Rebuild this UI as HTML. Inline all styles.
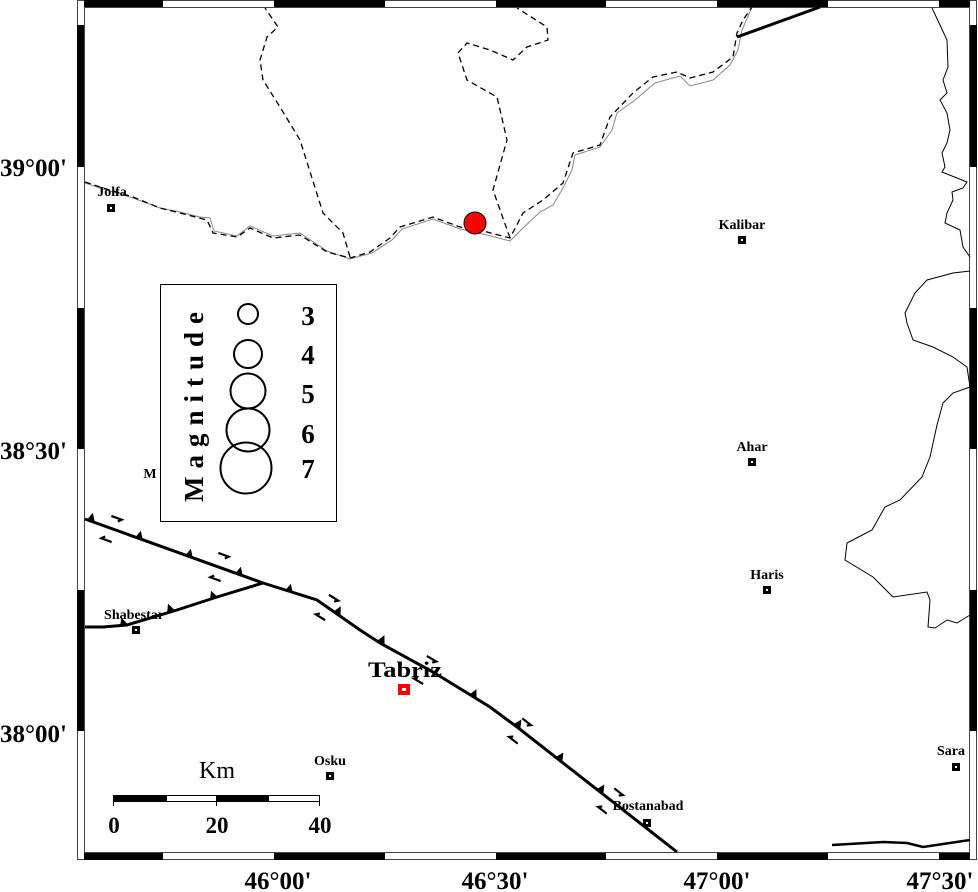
<!DOCTYPE html>
<html><head><meta charset="utf-8"><style>
html,body{margin:0;padding:0;background:#fff;}
svg{display:block;}
text{font-family:"Liberation Serif",serif;}
</style></head><body>
<svg width="978" height="892" viewBox="0 0 978 892" xmlns="http://www.w3.org/2000/svg">
<rect width="978" height="892" fill="#fff"/>

<g stroke="#444" stroke-width="1" fill="#fff">
<rect x="77.5" y="0.5" width="899" height="859"/>
<rect x="84.5" y="7.5" width="885" height="845"/>
</g>
<g fill="#000">
<rect x="84" y="0" width="79" height="7"/><rect x="274" y="0" width="111" height="7"/><rect x="496" y="0" width="110" height="7"/><rect x="717" y="0" width="111" height="7"/><rect x="939" y="0" width="31" height="7"/>
<rect x="84" y="853" width="79" height="7"/><rect x="274" y="853" width="111" height="7"/><rect x="496" y="853" width="110" height="7"/><rect x="717" y="853" width="111" height="7"/><rect x="939" y="853" width="31" height="7"/>
<rect x="77" y="25" width="7" height="142"/><rect x="77" y="308" width="7" height="141"/><rect x="77" y="590" width="7" height="141"/>
<rect x="970" y="25" width="7" height="142"/><rect x="970" y="308" width="7" height="141"/><rect x="970" y="590" width="7" height="141"/>
</g>

<g font-size="25" font-weight="bold" fill="#000">
<text x="0" y="176">39°00'</text>
<text x="0" y="459">38°30'</text>
<text x="0" y="742">38°00'</text>
<text x="278" y="889" text-anchor="middle">46°00'</text>
<text x="495" y="889" text-anchor="middle">46°30'</text>
<text x="717" y="889" text-anchor="middle">47°00'</text>
<text x="940" y="889" text-anchor="middle">47°30'</text>
</g>

<g fill="none" stroke="#888" stroke-width="1">
<path d="M85,183 L103,189 L133,198 L160,208 L180,212 L200,217 L210,218 L214,231 L237,236 L250,226 L273,236 L300,233 L327,251 L350,259 L372,253 L392,240 L402,229 L433,219 L460,229 L487,235 L510,241 L523,228 L540,212 L553,205 L563,188 L572,170 L575,155 L600,147 L612,130 L617,113 L635,100 L655,83 L680,76 L690,86 L713,80 L730,65 L738,50 L742,30 L752,7"/>
</g>
<g fill="none" stroke="#000" stroke-width="1.3" stroke-dasharray="6,4">
<path d="M85,182 L103,188 L133,197 L160,208 L180,213 L207,220 L213,233 L237,237 L250,228 L273,238 L300,235 L327,252 L350,258 L370,252 L390,238 L400,227 L433,217 L460,227 L487,232 L510,238 L523,213 L543,200 L563,183 L573,153 L600,145 L610,117 L633,93 L653,77 L677,72 L690,78 L713,72 L733,57 L737,33 L743,20 L752,7"/>
<path d="M510,238 L493,190 L507,140 L497,97 L467,80 L458,53 L467,43 L490,50 L513,60 L527,47 L548,40 L547,27 L517,8"/>
<path d="M350,257 L343,233 L323,213 L300,140 L280,107 L263,80 L260,60 L267,37 L278,27 L265,8"/>
</g>

<g fill="none" stroke="#000" stroke-width="1">
<path d="M932,8 L940,25 L947,40 L948,67 L943,80 L947,93 L940,100 L947,113 L950,130 L947,143 L942,153 L945,167 L942,172 L967,182 L963,188 L952,192 L953,200 L947,213 L945,223 L960,230 L963,247 L970,257"/>
<path d="M970,271 L953,273 L927,280 L915,293 L905,313 L907,323 L913,340 L933,347 L953,357 L967,367 L970,387 L953,393 L943,403 L937,425 L930,457 L922,477 L900,500 L885,507 L872,530 L847,543 L845,560 L873,577 L893,597 L927,592 L930,600 L928,627 L935,628 L947,620 L957,623 L970,615"/>
</g>
<path d="M832,845 L883,842 L907,843 L923,847 L970,840" fill="none" stroke="#000" stroke-width="2.5"/>
<path d="M737,37 L820,7" fill="none" stroke="#000" stroke-width="3"/>

<g fill="none" stroke="#000" stroke-width="3">
<path d="M85,519 L263,583 L317,600 L360,630 L380,643 L433,672 L490,707 L517,727 L677,852"/>
<path d="M85,627 L103,627 L127,625 L177,610 L217,597 L263,583"/>
</g>
<g fill="#000">
<g transform="translate(92,521) rotate(19.5)"><path d="M-5,0 L3,0 L-2,-8Z"/></g>
<g transform="translate(140,539) rotate(19.5)"><path d="M-5,0 L3,0 L-2,-8Z"/></g>
<g transform="translate(190,557) rotate(19.5)"><path d="M-5,0 L3,0 L-2,-8Z"/></g>
<g transform="translate(240,575) rotate(19.5)"><path d="M-5,0 L3,0 L-2,-8Z"/></g>
<g transform="translate(290,592) rotate(19.5)"><path d="M-5,0 L3,0 L-2,-8Z"/></g>
<g transform="translate(338,614) rotate(34)"><path d="M-5,0 L3,0 L-2,-8Z"/></g>
<g transform="translate(382,643) rotate(31)"><path d="M-5,0 L3,0 L-2,-8Z"/></g>
<g transform="translate(474,697) rotate(31)"><path d="M-5,0 L3,0 L-2,-8Z"/></g>
<g transform="translate(518,727) rotate(38)"><path d="M-5,0 L3,0 L-2,-8Z"/></g>
<g transform="translate(560,760) rotate(38)"><path d="M-5,0 L3,0 L-2,-8Z"/></g>
<g transform="translate(601,792) rotate(38)"><path d="M-5,0 L3,0 L-2,-8Z"/></g>
<g transform="translate(125,625) rotate(-12)"><path d="M-5,0 L3,0 L-2,-8Z"/></g>
<g transform="translate(172,611) rotate(-15)"><path d="M-5,0 L3,0 L-2,-8Z"/></g>
<g transform="translate(215,598) rotate(-15)"><path d="M-5,0 L3,0 L-2,-8Z"/></g>
</g>
<g fill="none" stroke="#000" stroke-width="2.2">
<g transform="translate(117,518) rotate(20)"><path d="M-6,0 H5 L2,3"/></g>
<g transform="translate(106,540) rotate(20)"><path d="M6,0 H-5 L-2,-3"/></g>
<g transform="translate(224,555) rotate(20)"><path d="M-6,0 H5 L2,3"/></g>
<g transform="translate(215,579) rotate(20)"><path d="M6,0 H-5 L-2,-3"/></g>
<g transform="translate(334,598) rotate(32)"><path d="M-6,0 H5 L2,3"/></g>
<g transform="translate(320,617) rotate(32)"><path d="M6,0 H-5 L-2,-3"/></g>
<g transform="translate(432,659) rotate(31)"><path d="M-6,0 H5 L2,3"/></g>
<g transform="translate(418,681) rotate(31)"><path d="M6,0 H-5 L-2,-3"/></g>
<g transform="translate(527,722) rotate(38)"><path d="M-6,0 H5 L2,3"/></g>
<g transform="translate(513,740) rotate(38)"><path d="M6,0 H-5 L-2,-3"/></g>
<g transform="translate(619,792) rotate(38)"><path d="M-6,0 H5 L2,3"/></g>
<g transform="translate(602,810) rotate(38)"><path d="M6,0 H-5 L-2,-3"/></g>
</g>

<circle cx="475" cy="223" r="11" fill="#f00" stroke="#000" stroke-width="1"/>

<g fill="#000">
<rect x="107" y="204" width="8" height="8"/><rect x="738" y="236" width="8" height="8"/><rect x="748" y="458" width="8" height="8"/><rect x="763" y="586" width="8" height="8"/><rect x="952" y="763" width="8" height="8"/><rect x="326" y="772" width="8" height="8"/><rect x="643" y="819" width="8" height="8"/><rect x="132" y="626" width="8" height="8"/>
</g>
<g fill="#fff">
<rect x="110" y="207" width="2" height="2"/><rect x="741" y="239" width="2" height="2"/><rect x="751" y="461" width="2" height="2"/><rect x="766" y="589" width="2" height="2"/><rect x="955" y="766" width="2" height="2"/><rect x="329" y="775" width="2" height="2"/><rect x="646" y="822" width="2" height="2"/><rect x="135" y="629" width="2" height="2"/>
</g>
<rect x="398" y="684" width="12" height="11" fill="#f00"/><rect x="402" y="688" width="4" height="3" fill="#fff"/>
<g font-size="14" font-weight="bold" fill="#000" text-anchor="middle">
<text x="112" y="196">Jolfa</text>
<text x="742" y="229">Kalibar</text>
<text x="752" y="451">Ahar</text>
<text x="767" y="579">Haris</text>
<text x="951" y="755">Sara</text>
<text x="330" y="765">Osku</text>
<text x="648" y="810">Bostanabad</text>
<text x="134" y="619">Shabestar</text>
<text x="150" y="478">M</text>
</g>
<text x="368" y="677" font-size="22" font-weight="bold" textLength="74" lengthAdjust="spacingAndGlyphs">Tabriz</text>

<rect x="160.5" y="284.5" width="176" height="237" fill="#fff" stroke="#000" stroke-width="1"/>
<text transform="translate(203,407) rotate(-90)" font-size="27" font-weight="bold" text-anchor="middle" textLength="190" lengthAdjust="spacing">Magnitude</text>
<g fill="none" stroke="#000" stroke-width="2">
<circle cx="248" cy="314" r="10"/>
<circle cx="248" cy="354" r="14"/>
<circle cx="248" cy="391" r="17.5"/>
<circle cx="248" cy="430" r="21.5"/>
<circle cx="246" cy="468" r="25.5"/>
</g>
<g font-size="27" font-weight="bold" text-anchor="middle">
<text x="308" y="325">3</text>
<text x="308" y="364">4</text>
<text x="308" y="403">5</text>
<text x="308" y="443">6</text>
<text x="308" y="478">7</text>
</g>

<g stroke="#000" stroke-width="1">
<rect x="113.5" y="795.5" width="206" height="6" fill="#fff"/>
<path d="M113.5,795 V806 M216.5,795 V806 M319.5,795 V806 M166.5,795 V802 M268.5,795 V802"/>
</g>
<rect x="113" y="795" width="53" height="6" fill="#000"/><rect x="216" y="795" width="52" height="6" fill="#000"/>
<text x="217" y="778" font-size="24" text-anchor="middle">Km</text>
<g font-size="23" font-weight="bold" text-anchor="middle">
<text x="114" y="833">0</text><text x="217" y="833">20</text><text x="320" y="833">40</text>
</g>
</svg>
</body></html>
